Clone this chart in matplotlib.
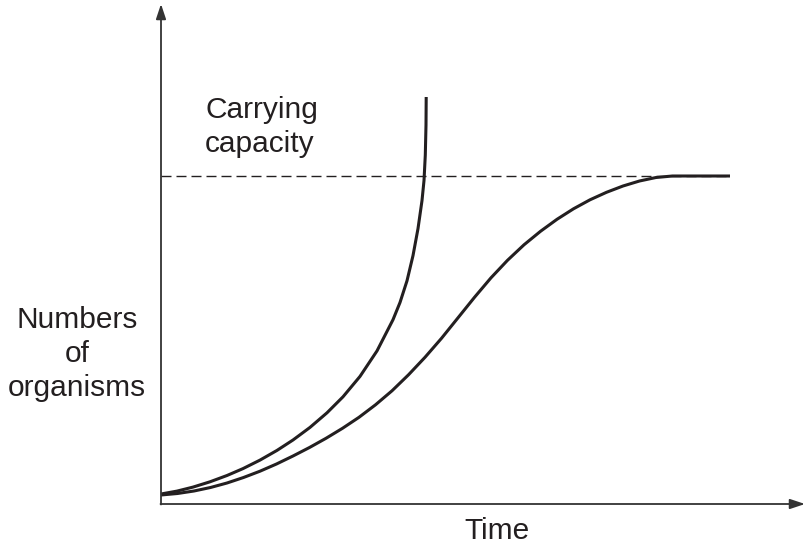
import matplotlib
matplotlib.use("Agg")
import matplotlib.pyplot as plt

plt.rcParams['font.family'] = ['Liberation Sans', 'DejaVu Sans']

# exponential (J) curve
j_time = [0, 1.6, 3.2, 4.9, 6.6, 8.2, 9.9, 11.6, 13.2, 14.9, 16.6, 18.2,
          19.9, 21.6, 23.2, 23.9, 24.6, 25.2, 25.7, 26.1, 26.3, 26.43, 26.5,
          26.52]
j_num = [1.0, 1.29, 1.69, 2.22, 2.85, 3.54, 4.39, 5.36, 6.4, 7.66, 9.12,
         10.72, 12.76, 15.31, 18.43, 20.15, 22.32, 24.84, 27.54, 30.34,
         32.34, 34.9, 37.9, 40.7]

# logistic (S) curve
s_time = [0, 1.65, 3.3, 4.95, 6.6, 8.25, 9.9, 11.55, 13.2, 14.85, 16.5,
          18.15, 19.8, 21.45, 23.1, 24.75, 26.4, 28.05, 29.7, 31.35, 33.0,
          34.65, 36.3, 37.95, 39.6, 41.25, 42.9, 44.55, 46.2, 47.85, 49.5,
          51.15, 56.9]
s_num = [0.9, 1.05, 1.3, 1.65, 2.1, 2.65, 3.28, 4.0, 4.8, 5.65, 6.57, 7.57,
         8.67, 9.92, 11.32, 12.92, 14.67, 16.57, 18.62, 20.67, 22.62, 24.37,
         25.92, 27.27, 28.47, 29.52, 30.42, 31.17, 31.8, 32.3, 32.65, 32.8,
         32.8]

capacity = 32.8
capacity_end = 56.9

ink = '#231f20'

fig = plt.figure(figsize=(8.05, 5.49), dpi=100)
ax = fig.add_axes([0, 0, 1, 1])
ax.set_xlim(-16.1, 64.4)
ax.set_ylim(-4.5, 50.4)
ax.axis('off')

# axes with arrow heads
arrow = dict(arrowstyle='-|>,head_length=0.9,head_width=0.3',
             lw=1.3, color='#333333', shrinkA=0, shrinkB=0)
ax.annotate('', xy=(0, 50.0), xytext=(0, -0.05), arrowprops=arrow)
ax.annotate('', xy=(64.4, 0), xytext=(-0.05, 0), arrowprops=arrow)

ax.plot([0, capacity_end], [capacity, capacity], color=ink, lw=1.0,
        linestyle=(0, (7.2, 3.6)))
ax.plot(j_time, j_num, color=ink, lw=2.2, solid_capstyle='butt',
        solid_joinstyle='round')
ax.plot(s_time, s_num, color=ink, lw=2.2, solid_capstyle='butt',
        solid_joinstyle='round')

ax.text(4.4, 37.7, 'Carrying\ncapacity', fontsize=21.5, color=ink,
        ha='left', va='center', linespacing=1.23)
ax.text(-8.4, 15.0, 'Numbers\nof\norganisms', fontsize=21.5, color=ink,
        ha='center', va='center', multialignment='center', linespacing=1.26)
ax.text(33.6, -2.7, 'Time', fontsize=21.5, color=ink,
        ha='center', va='center')

fig.savefig('out.png', dpi=100)
